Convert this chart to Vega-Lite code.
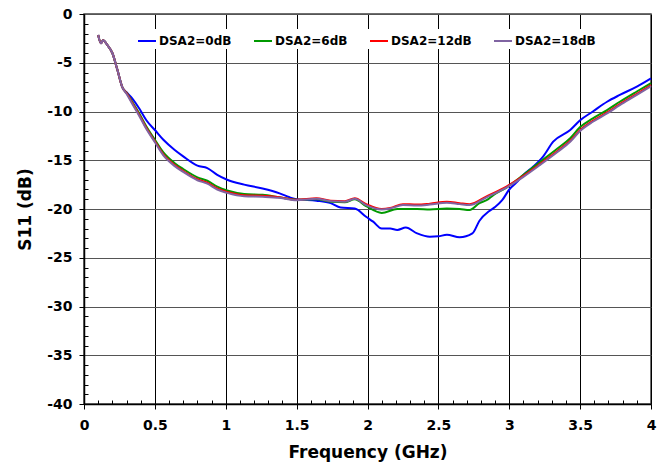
{
  "$schema": "https://vega.github.io/schema/vega-lite/v6.json",
  "width": 567,
  "height": 390,
  "autosize": {"type": "none"},
  "padding": {"left": 84, "top": 14, "right": 6, "bottom": 59},
  "background": "white",
  "config": {
    "view": {"stroke": "#404040", "strokeWidth": 1.5},
    "font": "DejaVu Sans"
  },
  "data": {
    "values": [
      {"s":"DSA2=0dB","f":0.1,"v":-2.15},{"s":"DSA2=0dB","f":0.12,"v":-3.0},{"s":"DSA2=0dB","f":0.135,"v":-2.7},{"s":"DSA2=0dB","f":0.165,"v":-3.2},{"s":"DSA2=0dB","f":0.2,"v":-4.0},{"s":"DSA2=0dB","f":0.235,"v":-5.7},{"s":"DSA2=0dB","f":0.27,"v":-7.5},{"s":"DSA2=0dB","f":0.305,"v":-8.1},{"s":"DSA2=0dB","f":0.34,"v":-8.65},{"s":"DSA2=0dB","f":0.39,"v":-9.7},{"s":"DSA2=0dB","f":0.44,"v":-10.9},{"s":"DSA2=0dB","f":0.5,"v":-11.9},{"s":"DSA2=0dB","f":0.56,"v":-12.9},{"s":"DSA2=0dB","f":0.64,"v":-13.95},{"s":"DSA2=0dB","f":0.7,"v":-14.6},{"s":"DSA2=0dB","f":0.8,"v":-15.55},{"s":"DSA2=0dB","f":0.87,"v":-15.8},{"s":"DSA2=0dB","f":0.94,"v":-16.5},{"s":"DSA2=0dB","f":1.01,"v":-17.0},{"s":"DSA2=0dB","f":1.13,"v":-17.5},{"s":"DSA2=0dB","f":1.26,"v":-17.9},{"s":"DSA2=0dB","f":1.38,"v":-18.4},{"s":"DSA2=0dB","f":1.45,"v":-18.8},{"s":"DSA2=0dB","f":1.5,"v":-19.0},{"s":"DSA2=0dB","f":1.64,"v":-19.15},{"s":"DSA2=0dB","f":1.74,"v":-19.4},{"s":"DSA2=0dB","f":1.81,"v":-19.85},{"s":"DSA2=0dB","f":1.91,"v":-19.95},{"s":"DSA2=0dB","f":1.99,"v":-20.8},{"s":"DSA2=0dB","f":2.04,"v":-21.3},{"s":"DSA2=0dB","f":2.1,"v":-22.0},{"s":"DSA2=0dB","f":2.16,"v":-22.0},{"s":"DSA2=0dB","f":2.21,"v":-22.15},{"s":"DSA2=0dB","f":2.27,"v":-21.9},{"s":"DSA2=0dB","f":2.35,"v":-22.5},{"s":"DSA2=0dB","f":2.44,"v":-22.85},{"s":"DSA2=0dB","f":2.5,"v":-22.8},{"s":"DSA2=0dB","f":2.56,"v":-22.65},{"s":"DSA2=0dB","f":2.65,"v":-22.9},{"s":"DSA2=0dB","f":2.74,"v":-22.5},{"s":"DSA2=0dB","f":2.79,"v":-21.2},{"s":"DSA2=0dB","f":2.86,"v":-20.2},{"s":"DSA2=0dB","f":2.9,"v":-19.8},{"s":"DSA2=0dB","f":2.95,"v":-19.1},{"s":"DSA2=0dB","f":3.0,"v":-18.0},{"s":"DSA2=0dB","f":3.05,"v":-17.3},{"s":"DSA2=0dB","f":3.1,"v":-16.5},{"s":"DSA2=0dB","f":3.17,"v":-15.65},{"s":"DSA2=0dB","f":3.24,"v":-14.6},{"s":"DSA2=0dB","f":3.31,"v":-13.1},{"s":"DSA2=0dB","f":3.43,"v":-11.9},{"s":"DSA2=0dB","f":3.5,"v":-10.9},{"s":"DSA2=0dB","f":3.59,"v":-10.0},{"s":"DSA2=0dB","f":3.69,"v":-9.0},{"s":"DSA2=0dB","f":3.78,"v":-8.3},{"s":"DSA2=0dB","f":3.9,"v":-7.45},{"s":"DSA2=0dB","f":4.0,"v":-6.6},

      {"s":"DSA2=6dB","f":0.1,"v":-2.15},{"s":"DSA2=6dB","f":0.12,"v":-3.0},{"s":"DSA2=6dB","f":0.135,"v":-2.7},{"s":"DSA2=6dB","f":0.165,"v":-3.2},{"s":"DSA2=6dB","f":0.2,"v":-4.0},{"s":"DSA2=6dB","f":0.235,"v":-5.7},{"s":"DSA2=6dB","f":0.27,"v":-7.5},{"s":"DSA2=6dB","f":0.305,"v":-8.15},{"s":"DSA2=6dB","f":0.34,"v":-9.0},{"s":"DSA2=6dB","f":0.39,"v":-10.2},{"s":"DSA2=6dB","f":0.44,"v":-11.55},{"s":"DSA2=6dB","f":0.5,"v":-12.9},{"s":"DSA2=6dB","f":0.56,"v":-14.2},{"s":"DSA2=6dB","f":0.64,"v":-15.3},{"s":"DSA2=6dB","f":0.7,"v":-15.9},{"s":"DSA2=6dB","f":0.8,"v":-16.75},{"s":"DSA2=6dB","f":0.87,"v":-17.1},{"s":"DSA2=6dB","f":0.94,"v":-17.7},{"s":"DSA2=6dB","f":1.01,"v":-18.1},{"s":"DSA2=6dB","f":1.13,"v":-18.45},{"s":"DSA2=6dB","f":1.26,"v":-18.55},{"s":"DSA2=6dB","f":1.38,"v":-18.8},{"s":"DSA2=6dB","f":1.5,"v":-19.05},{"s":"DSA2=6dB","f":1.64,"v":-19.0},{"s":"DSA2=6dB","f":1.74,"v":-19.25},{"s":"DSA2=6dB","f":1.84,"v":-19.3},{"s":"DSA2=6dB","f":1.91,"v":-19.0},{"s":"DSA2=6dB","f":1.99,"v":-19.7},{"s":"DSA2=6dB","f":2.1,"v":-20.4},{"s":"DSA2=6dB","f":2.21,"v":-20.0},{"s":"DSA2=6dB","f":2.35,"v":-20.0},{"s":"DSA2=6dB","f":2.44,"v":-20.05},{"s":"DSA2=6dB","f":2.56,"v":-19.95},{"s":"DSA2=6dB","f":2.65,"v":-20.0},{"s":"DSA2=6dB","f":2.72,"v":-20.1},{"s":"DSA2=6dB","f":2.79,"v":-19.4},{"s":"DSA2=6dB","f":2.84,"v":-19.1},{"s":"DSA2=6dB","f":2.89,"v":-18.55},{"s":"DSA2=6dB","f":2.98,"v":-17.8},{"s":"DSA2=6dB","f":3.1,"v":-16.5},{"s":"DSA2=6dB","f":3.22,"v":-15.15},{"s":"DSA2=6dB","f":3.34,"v":-13.8},{"s":"DSA2=6dB","f":3.43,"v":-12.75},{"s":"DSA2=6dB","f":3.5,"v":-11.6},{"s":"DSA2=6dB","f":3.59,"v":-10.7},{"s":"DSA2=6dB","f":3.69,"v":-9.85},{"s":"DSA2=6dB","f":3.78,"v":-9.0},{"s":"DSA2=6dB","f":3.9,"v":-7.95},{"s":"DSA2=6dB","f":4.0,"v":-7.1},

      {"s":"DSA2=12dB","f":0.1,"v":-2.15},{"s":"DSA2=12dB","f":0.12,"v":-3.0},{"s":"DSA2=12dB","f":0.135,"v":-2.7},{"s":"DSA2=12dB","f":0.165,"v":-3.2},{"s":"DSA2=12dB","f":0.2,"v":-4.0},{"s":"DSA2=12dB","f":0.235,"v":-5.7},{"s":"DSA2=12dB","f":0.27,"v":-7.5},{"s":"DSA2=12dB","f":0.305,"v":-8.2},{"s":"DSA2=12dB","f":0.34,"v":-9.1},{"s":"DSA2=12dB","f":0.39,"v":-10.35},{"s":"DSA2=12dB","f":0.44,"v":-11.7},{"s":"DSA2=12dB","f":0.5,"v":-13.05},{"s":"DSA2=12dB","f":0.56,"v":-14.4},{"s":"DSA2=12dB","f":0.64,"v":-15.5},{"s":"DSA2=12dB","f":0.7,"v":-16.1},{"s":"DSA2=12dB","f":0.8,"v":-16.95},{"s":"DSA2=12dB","f":0.87,"v":-17.3},{"s":"DSA2=12dB","f":0.94,"v":-17.9},{"s":"DSA2=12dB","f":1.01,"v":-18.25},{"s":"DSA2=12dB","f":1.13,"v":-18.6},{"s":"DSA2=12dB","f":1.26,"v":-18.65},{"s":"DSA2=12dB","f":1.38,"v":-18.8},{"s":"DSA2=12dB","f":1.5,"v":-19.05},{"s":"DSA2=12dB","f":1.64,"v":-18.9},{"s":"DSA2=12dB","f":1.74,"v":-19.15},{"s":"DSA2=12dB","f":1.84,"v":-19.2},{"s":"DSA2=12dB","f":1.91,"v":-18.9},{"s":"DSA2=12dB","f":1.99,"v":-19.5},{"s":"DSA2=12dB","f":2.1,"v":-20.0},{"s":"DSA2=12dB","f":2.16,"v":-19.9},{"s":"DSA2=12dB","f":2.25,"v":-19.5},{"s":"DSA2=12dB","f":2.35,"v":-19.55},{"s":"DSA2=12dB","f":2.44,"v":-19.45},{"s":"DSA2=12dB","f":2.56,"v":-19.25},{"s":"DSA2=12dB","f":2.65,"v":-19.4},{"s":"DSA2=12dB","f":2.72,"v":-19.5},{"s":"DSA2=12dB","f":2.84,"v":-18.7},{"s":"DSA2=12dB","f":2.98,"v":-17.7},{"s":"DSA2=12dB","f":3.1,"v":-16.6},{"s":"DSA2=12dB","f":3.22,"v":-15.35},{"s":"DSA2=12dB","f":3.34,"v":-14.05},{"s":"DSA2=12dB","f":3.43,"v":-13.0},{"s":"DSA2=12dB","f":3.5,"v":-11.9},{"s":"DSA2=12dB","f":3.59,"v":-10.95},{"s":"DSA2=12dB","f":3.69,"v":-10.1},{"s":"DSA2=12dB","f":3.78,"v":-9.25},{"s":"DSA2=12dB","f":3.9,"v":-8.2},{"s":"DSA2=12dB","f":4.0,"v":-7.3},

      {"s":"DSA2=18dB","f":0.1,"v":-2.15},{"s":"DSA2=18dB","f":0.12,"v":-3.0},{"s":"DSA2=18dB","f":0.135,"v":-2.7},{"s":"DSA2=18dB","f":0.165,"v":-3.2},{"s":"DSA2=18dB","f":0.2,"v":-4.0},{"s":"DSA2=18dB","f":0.235,"v":-5.7},{"s":"DSA2=18dB","f":0.27,"v":-7.5},{"s":"DSA2=18dB","f":0.305,"v":-8.3},{"s":"DSA2=18dB","f":0.34,"v":-9.2},{"s":"DSA2=18dB","f":0.39,"v":-10.45},{"s":"DSA2=18dB","f":0.44,"v":-11.8},{"s":"DSA2=18dB","f":0.5,"v":-13.15},{"s":"DSA2=18dB","f":0.56,"v":-14.5},{"s":"DSA2=18dB","f":0.64,"v":-15.6},{"s":"DSA2=18dB","f":0.7,"v":-16.2},{"s":"DSA2=18dB","f":0.8,"v":-17.05},{"s":"DSA2=18dB","f":0.87,"v":-17.4},{"s":"DSA2=18dB","f":0.94,"v":-18.0},{"s":"DSA2=18dB","f":1.01,"v":-18.35},{"s":"DSA2=18dB","f":1.13,"v":-18.7},{"s":"DSA2=18dB","f":1.26,"v":-18.75},{"s":"DSA2=18dB","f":1.38,"v":-18.85},{"s":"DSA2=18dB","f":1.5,"v":-19.1},{"s":"DSA2=18dB","f":1.64,"v":-18.95},{"s":"DSA2=18dB","f":1.74,"v":-19.2},{"s":"DSA2=18dB","f":1.84,"v":-19.25},{"s":"DSA2=18dB","f":1.91,"v":-18.95},{"s":"DSA2=18dB","f":1.99,"v":-19.6},{"s":"DSA2=18dB","f":2.1,"v":-20.05},{"s":"DSA2=18dB","f":2.16,"v":-19.95},{"s":"DSA2=18dB","f":2.25,"v":-19.6},{"s":"DSA2=18dB","f":2.35,"v":-19.65},{"s":"DSA2=18dB","f":2.44,"v":-19.55},{"s":"DSA2=18dB","f":2.56,"v":-19.35},{"s":"DSA2=18dB","f":2.65,"v":-19.5},{"s":"DSA2=18dB","f":2.72,"v":-19.6},{"s":"DSA2=18dB","f":2.84,"v":-18.8},{"s":"DSA2=18dB","f":2.98,"v":-17.8},{"s":"DSA2=18dB","f":3.1,"v":-16.7},{"s":"DSA2=18dB","f":3.22,"v":-15.45},{"s":"DSA2=18dB","f":3.34,"v":-14.15},{"s":"DSA2=18dB","f":3.43,"v":-13.1},{"s":"DSA2=18dB","f":3.5,"v":-12.0},{"s":"DSA2=18dB","f":3.59,"v":-11.05},{"s":"DSA2=18dB","f":3.69,"v":-10.2},{"s":"DSA2=18dB","f":3.78,"v":-9.35},{"s":"DSA2=18dB","f":3.9,"v":-8.3},{"s":"DSA2=18dB","f":4.0,"v":-7.4}
    ]
  },
  "mark": {"type": "line", "interpolate": "monotone", "strokeWidth": 2},
  "encoding": {
    "x": {
      "field": "f", "type": "quantitative",
      "scale": {"domain": [0, 4], "nice": false, "zero": false},
      "axis": {
        "values": [0,0.1,0.2,0.3,0.4,0.5,0.6,0.7,0.8,0.9,1,1.1,1.2,1.3,1.4,1.5,1.6,1.7,1.8,1.9,2,2.1,2.2,2.3,2.4,2.5,2.6,2.7,2.8,2.9,3,3.1,3.2,3.3,3.4,3.5,3.6,3.7,3.8,3.9,4],
        "labelExpr": "abs(datum.value*2 - round(datum.value*2)) < 0.000001 ? toString(datum.value) : ''",
        "title": "Frequency (GHz)",
        "titleFontSize": 17, "titleFontWeight": "bold", "titleColor": "black", "titlePadding": 12,
        "labelFontSize": 14, "labelFontWeight": "bold", "labelColor": "black", "labelPadding": 9,
        "labelFlush": false, "labelOverlap": false,
        "tickSize": {"condition": {"test": "abs(datum.value*2 - round(datum.value*2)) < 0.000001", "value": 5}, "value": -4},
        "tickColor": "black", "tickWidth": 1,
        "domainColor": "black", "domainWidth": 1.5,
        "grid": true, "gridColor": "black", "gridWidth": 1,
        "gridOpacity": {"condition": {"test": "abs(datum.value*2 - round(datum.value*2)) < 0.000001", "value": 1}, "value": 0}
      }
    },
    "y": {
      "field": "v", "type": "quantitative",
      "scale": {"domain": [-40, 0], "nice": false, "zero": false},
      "axis": {
        "values": [-40,-39,-38,-37,-36,-35,-34,-33,-32,-31,-30,-29,-28,-27,-26,-25,-24,-23,-22,-21,-20,-19,-18,-17,-16,-15,-14,-13,-12,-11,-10,-9,-8,-7,-6,-5,-4,-3,-2,-1,0],
        "labelExpr": "datum.value % 5 == 0 ? toString(datum.value) : ''",
        "title": "S11 (dB)",
        "titleFontSize": 17, "titleFontWeight": "bold", "titleColor": "black", "titlePadding": 12,
        "labelFontSize": 14, "labelFontWeight": "bold", "labelColor": "black", "labelPadding": 7,
        "labelFlush": false, "labelOverlap": false,
        "tickSize": {"condition": {"test": "datum.value % 5 == 0", "value": 5}, "value": -4},
        "tickColor": "black", "tickWidth": 1,
        "domainColor": "black", "domainWidth": 1.5,
        "grid": true, "gridColor": "#555555", "gridWidth": 1,
        "gridOpacity": {"condition": {"test": "datum.value % 5 == 0", "value": 1}, "value": 0}
      }
    },
    "color": {
      "field": "s", "type": "nominal",
      "scale": {
        "domain": ["DSA2=0dB", "DSA2=6dB", "DSA2=12dB", "DSA2=18dB"],
        "range": ["#0000FF", "#009900", "#FF0000", "#8064A2"]
      },
      "legend": {
        "title": null,
        "orient": "none",
        "direction": "horizontal",
        "legendX": 51,
        "legendY": 15,
        "fillColor": "white",
        "padding": 2,
        "symbolType": "stroke",
        "symbolSize": 324,
        "symbolStrokeWidth": 2,
        "labelFontSize": 12,
        "labelFontWeight": "bold",
        "labelColor": "black",
        "labelOffset": 2,
        "columnPadding": 18
      }
    }
  }
}
